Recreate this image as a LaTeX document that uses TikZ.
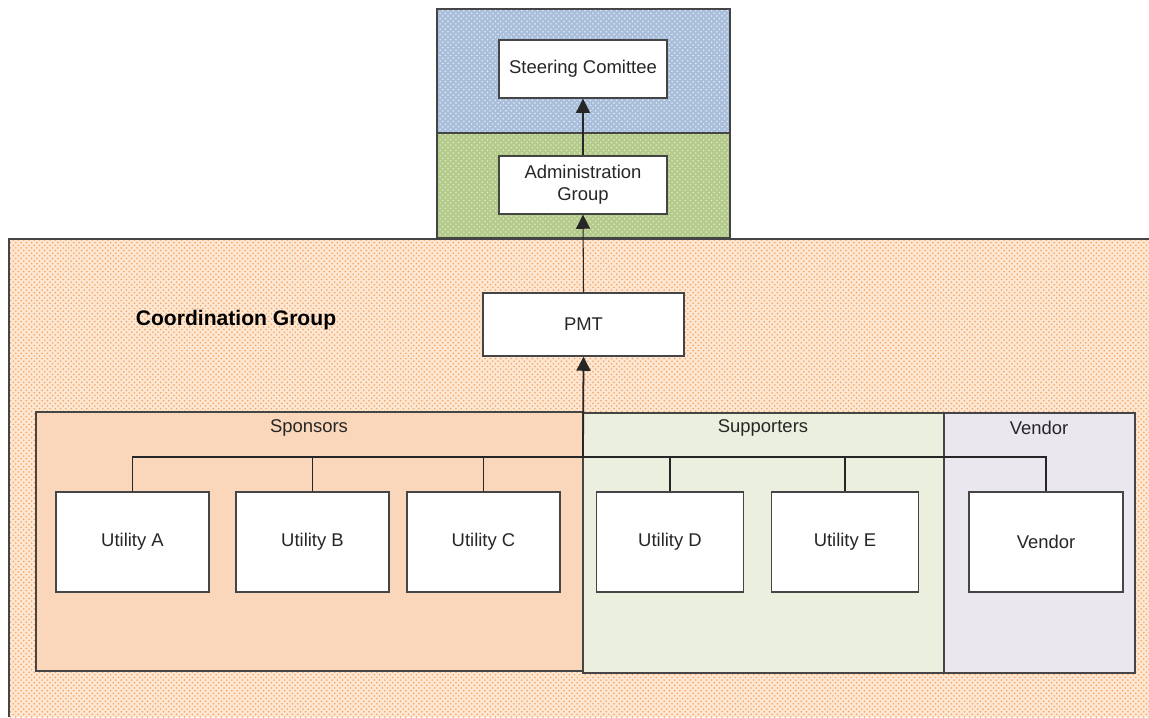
\documentclass[tikz,border=0pt]{standalone}
\usepackage{fontspec}
\setmainfont{Liberation Sans}
\usepackage{xcolor}
\usetikzlibrary{arrows.meta,patterns,positioning}

\definecolor{coordbg}{HTML}{FDE6D2}
\definecolor{coorddot}{HTML}{F5A25E}
\definecolor{steerbg}{HTML}{A8BEDB}
\definecolor{steerdot}{HTML}{E4ECF5}
\definecolor{adminbg}{HTML}{B4CA8A}
\definecolor{admindot}{HTML}{DCE8C6}
\definecolor{sponsorbg}{HTML}{FAD7BA}
\definecolor{supportbg}{HTML}{EAF0DD}
\definecolor{vendorbg}{HTML}{EAE7EF}
\definecolor{edgegray}{HTML}{454545}

\tikzset{
  textfont/.style={font=\fontsize{10.5}{12.5}\selectfont, text=black!85},
  unitbox/.style={draw=edgegray, line width=0.8pt, fill=white, textfont,
    minimum width=3.06cm, minimum height=2cm, inner sep=1pt},
  headbox/.style={draw=edgegray, line width=0.8pt, fill=white, textfont,
    minimum width=3.36cm, minimum height=1.16cm, align=center, inner sep=1pt},
  grouplabel/.style={textfont, inner sep=0pt},
  groupbox/.style={draw=edgegray, line width=1pt},
  link/.style={draw=black!85, line width=0.6pt},
  uparrow/.style={link, -{Triangle[width=8pt,length=8pt]}},
}

\begin{document}
\begin{tikzpicture}[x=0.02cm,y=-0.02cm]
\useasboundingbox (0,0) rectangle (1149,717);

% coordination group background
\fill[coordbg] (9,239) rectangle (1149,717);
\fill[pattern=crosshatch dots, pattern color=coorddot] (9,239) rectangle (1149,717);
\draw[edgegray, line width=0.8pt] (9,717) -- (9,239) -- (1149,239);

% steering / administration bands
\fill[steerbg] (437,9) rectangle (730,133);
\fill[pattern=crosshatch dots, pattern color=steerdot] (437,9) rectangle (730,133);
\fill[adminbg] (437,133) rectangle (730,238);
\fill[pattern=crosshatch dots, pattern color=admindot] (437,133) rectangle (730,238);
\draw[groupbox] (437,9) rectangle (730,238);
\draw[groupbox] (437,133) -- (730,133);

% member groups
\draw[groupbox, fill=sponsorbg] (36,412) rectangle (583,671);
\draw[groupbox, fill=supportbg] (583,413) rectangle (944,673);
\draw[groupbox, fill=vendorbg] (944,413) rectangle (1135,673);

\node[grouplabel] (sponsors) at (309,428) {Sponsors};
\node[grouplabel] (supporters) at (763,428) {Supporters};
\node[grouplabel] (vendorgrp) at (1039,428) {Vendor};

\node[font=\fontsize{12}{14}\selectfont\bfseries, inner sep=0pt] (coord) at (236,320) {Coordination Group};

% boxes
\node[headbox] (steer) at (583,69) {Steering Comittee};
\node[headbox] (admin) at (583,185) {Administration\\Group};
\node[headbox, minimum width=4.02cm, minimum height=1.26cm] (pmt) at (583.5,324.5) {PMT};

\node[unitbox] (utila) at (132.5,542) {Utility A};
\node[unitbox] (utilb) at (312.5,542) {Utility B};
\node[unitbox] (utilc) at (483.5,542) {Utility C};
\node[unitbox, minimum width=2.93cm] (utild) at (670,542) {Utility D};
\node[unitbox, minimum width=2.93cm] (utile) at (845,542) {Utility E};
\node[unitbox, minimum width=3.08cm] (vendor) at (1046,542) {Vendor};

% connectors
\coordinate (bus) at (583,457);
\foreach \u in {utila,utilb,utilc,utild,utile,vendor}
  \draw[link] (\u.north) |- (bus);

\draw[uparrow, line width=1pt] (bus) -- (pmt.south);
\draw[uparrow] (pmt.north) -- (admin.south);
\draw[uparrow] (admin.north) -- (steer.south);

\end{tikzpicture}
\end{document}
